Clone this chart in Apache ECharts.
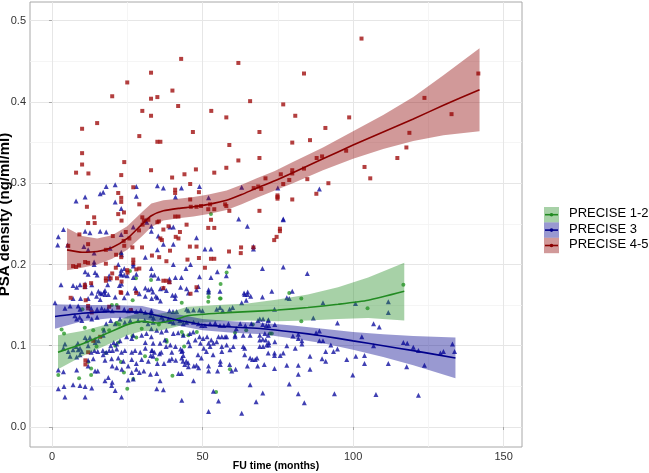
<!DOCTYPE html>
<html><head><meta charset="utf-8">
<script src="https://cdn.jsdelivr.net/npm/echarts@6/dist/echarts.min.js"></script>
<style>html,body{margin:0;padding:0;background:#fff}#c{width:649px;height:473px}</style>
</head><body><div id="c"></div>
<script>
const groupNames = ['PRECISE 1-2', 'PRECISE 3', 'PRECISE 4-5'];
const xTicks = [0, 50, 100, 150];
const xMinorTicks = [25, 75, 125];
const yTicks = [0, 0.1, 0.2, 0.3, 0.4, 0.5];
const yMinorTicks = [0.05, 0.15, 0.25, 0.35, 0.45];
const xTitle = 'FU time (months)';
const yTitle = 'PSA density (ng/ml/ml)';

// PRECISE 1-2 (green circles)
const precise12Points = [[22.9,0.213],[27.9,0.183],[25.9,0.192],[32.9,0.181],[19.9,0.150],[26.8,0.156],[43.1,0.153],[58,0.190],[56,0.176],[52,0.165],[56,0.158],[51.9,0.154],[78.8,0.165],[10.1,0.145],[3.2,0.120],[4,0.115],[10.9,0.122],[13.7,0.119],[22.3,0.126],[21.5,0.128],[43.1,0.117],[43.6,0.113],[45.3,0.113],[48.1,0.117],[60.8,0.116],[72.4,0.115],[38,0.107],[22.9,0.080],[27,0.059],[25,0.047],[23.9,0.067],[17.9,0.091],[14.8,0.099],[9,0.060],[2.1,0.064],[59.1,0.071],[54.5,0.043],[40,0.063],[43.9,0.099],[34.8,0.083],[30.9,0.087],[13,0.072],[82.8,0.158],[82.8,0.130],[104.8,0.146],[116.7,0.175],[73,0.115],[13,0.064],[12,0.080],[21,0.100],[22,0.104],[26.7,0.112],[28,0.110],[17,0.120],[19,0.119],[21.5,0.150],[52,0.160],[55.8,0.158],[38.1,0.105],[52.8,0.262],[29.8,0.121],[35.5,0.126],[64.5,0.119],[66.7,0.126]];

// PRECISE 3 (blue triangles)
const precise3Points = [[8,0.278],[11,0.283],[16,0.287],[17,0.289],[18,0.296],[21,0.298],[21,0.277],[23,0.269],[28,0.296],[28,0.284],[35,0.297],[37,0.294],[41,0.283],[43,0.294],[49,0.296],[52,0.282],[63,0.295],[75,0.294],[62,0.256],[88.8,0.293],[76.8,0.256],
[16,0.241],[18,0.240],[11,0.241],[12.6,0.239],[1.9,0.224],[5.2,0.224],[10.6,0.222],[12,0.218],[14,0.214],[14,0.203],[14,0.200],[23.1,0.212],[19.3,0.22],[22,0.2],[22.8,0.189],[11,0.191],[12,0.188],[14.3,0.190],[15,0.187],[19,0.186],[19,0.182],[3,0.175],[7,0.174],[8.2,0.172],[9.3,0.175],[11,0.176],[11,0.173],[13.2,0.175],[15.4,0.167],[17.6,0.168],[16.5,0.164],[17.6,0.163],[18.5,0.175],[22.4,0.174],[23.1,0.176],[7,0.158],[9.5,0.158],[12,0.158],[2.1,0.234],[3.8,0.243],[1,0.153],
[31,0.254],[31.5,0.252],[27,0.246],[33,0.247],[39.2,0.246],[40.3,0.246],[33,0.241],[35.3,0.235],[23,0.237],[37,0.225],[35,0.218],[40.3,0.225],[48,0.233],[23,0.215],[24,0.195],[23,0.193],[27,0.201],[27,0.198],[31,0.209],[33,0.195],[40.3,0.2],[46,0.2],[44.5,0.195],[24,0.187],[25,0.186],[27,0.184],[28,0.188],[33,0.187],[34,0.187],[35.3,0.183],[39,0.182],[39,0.179],[41,0.184],[43,0.184],[23,0.187],[31,0.171],[32,0.169],[33,0.170],[36,0.170],[37,0.171],[38,0.168],[40,0.162],[41,0.162],[44.7,0.170],[45.3,0.165],[42.7,0.172],[48.6,0.173],[27.6,0.171],[28,0.168],
[64.9,0.247],[50.8,0.219],[52.8,0.219],[66.9,0.222],[66.9,0.219],[58.8,0.198],[69.9,0.195],[49,0.185],[52.8,0.184],[54.9,0.191],[57.9,0.186],[52,0.169],[52,0.166],[55.8,0.167],[64,0.163],[65,0.166],[66,0.161],[69.9,0.160],[73,0.167],[48,0.169],
[76.8,0.255],[76.8,0.197],[84.8,0.189],[79.8,0.167],[78,0.159],[78.8,0.158],[90,0.153],[100.8,0.152],[111.7,0.154],[111.7,0.141],[73.9,0.145],[86.8,0.134],[71.9,0.132],[69,0.133],[70,0.126],[72,0.125],[74,0.126],[94.8,0.128],[106.8,0.127],[108.7,0.123],[80,0.112],[81.8,0.114],[81.8,0.109],[83,0.106],[83,0.102],[87.7,0.116],[88.8,0.118],[88.8,0.106],[90,0.106],[92.6,0.101],[94.8,0.096],[93.5,0.093],[102.9,0.111],[106.8,0.100],[116.7,0.104],[118,0.103],[120,0.098],[121.7,0.094],[129,0.091],[130,0.093],[133,0.102],[133.7,0.093],[70,0.108],[72,0.104],[72,0.101],[71,0.107],[74,0.105],[78,0.100],[71.8,0.091],[73.9,0.091],[73.9,0.088],[75.8,0.088],[76.8,0.091],[80.8,0.097],[89.7,0.084],[90.9,0.081],[90.9,0.093],[85.7,0.087],[97.9,0.083],[100.9,0.087],[103.8,0.088],[103.8,0.078],[111.7,0.078],[117.8,0.074],[123.7,0.076],[73.9,0.072],[78,0.076],[81.8,0.076],[85.7,0.071],[81.8,0.065],[99.9,0.064],[78.8,0.053],[70,0.042],[81.8,0.041],[83.8,0.030],[93.8,0.041],[107.6,0.040],[121.7,0.039],
[13.2,0.165],[16,0.165],[17.3,0.166],[18.7,0.163],[14.8,0.161],[16,0.157],[21,0.160],[24,0.159],[25.1,0.165],[29,0.164],[31,0.161],[33.1,0.158],[6,0.149],[8.7,0.149],[4.3,0.146],[9.3,0.145],
[13,0.146],[15,0.145],[16.5,0.146],[17.5,0.144],[18.5,0.145],[20,0.143],[24,0.145],[25.3,0.143],[26.5,0.144],[28,0.142],[29.5,0.144],[31,0.141],[33,0.143],
[7.6,0.137],[8.2,0.133],[9.2,0.135],[9.9,0.131],[12,0.137],[13.2,0.133],[15,0.135],[18,0.127],[19.5,0.131],[21,0.127],[22.6,0.133],[24.2,0.129],[26,0.131],[28.6,0.131],[30.8,0.131],[31.9,0.127],[33.6,0.129],
[11,0.110],[11.5,0.106],[12.6,0.110],[12,0.100],[8.6,0.103],[8,0.099],[9.3,0.097],[14.3,0.108],[14.3,0.104],[15.4,0.106],[17.3,0.119],[17,0.113],[20.5,0.104],[19.5,0.100],[21.5,0.102],[22.6,0.106],[24.8,0.111],[26.5,0.109],[27,0.113],[29.8,0.113],[31.4,0.115],[33,0.111],[31,0.104],
[4.3,0.102],[3.8,0.097],[5.4,0.093],[7,0.095],[8.7,0.095],[9.9,0.093],[13,0.092],[14.1,0.094],[15.2,0.093],[16.9,0.094],[18,0.092],[19,0.094],[20.1,0.094],[21.5,0.096],[23.1,0.092],[24.2,0.094],[26.5,0.092],[27.6,0.094],[29.3,0.092],[31,0.097],[33.3,0.094],
[6,0.087],[8.2,0.086],[9.3,0.089],[12,0.082],[13.7,0.084],[17,0.089],[17.6,0.082],[19.8,0.084],[22,0.085],[23.7,0.081],[26.5,0.083],[28,0.078],[29.8,0.083],[32,0.081],[33.6,0.087],
[12,0.075],[14.3,0.069],[15.2,0.069],[20,0.075],[21.5,0.073],[23.2,0.071],[25.3,0.075],[26.5,0.067],[28,0.071],[29,0.067],[30.5,0.069],[32.7,0.065],
[3.8,0.068],[8.2,0.070],[18.7,0.061],[17.6,0.057],[20,0.055],[7,0.052],[9.3,0.051],[13.2,0.048],[2.1,0.047],[19.8,0.051],[21,0.045],[23.1,0.037],[4.3,0.037],[11,0.037],[25.3,0.058],[27,0.059],[2.1,0.070],[4,0.05],[11,0.05],
[39,0.143],[40.2,0.142],[41.4,0.142],[44.7,0.145],[45.3,0.143],[47,0.144],[49,0.144],[50,0.143],[54.7,0.145],[55.8,0.147],[56.7,0.143],[59,0.145],[60,0.147],[63,0.153],[64.5,0.156],[64.9,0.163],[63.8,0.165],
[35,0.159],[36,0.155],[34.5,0.161],[33.5,0.166],[40.9,0.158],[33,0.141],[32.8,0.137],[33.7,0.134],
[36.4,0.135],[37,0.131],[38.7,0.133],[39.3,0.130],[40.3,0.128],[42.5,0.131],[43.6,0.127],[44.7,0.129],[47,0.129],[48.6,0.127],[49.7,0.125],[50.8,0.125],[52.5,0.127],[54.2,0.128],[55.8,0.125],[57.1,0.125],[58.6,0.127],[61.2,0.121],[62.5,0.127],[64.2,0.125],[66.2,0.127],[68.4,0.131],[70.1,0.133],[71.2,0.125],[71.8,0.131],
[33,0.121],[34.8,0.119],[36.4,0.117],[38,0.119],[40.3,0.115],[41.9,0.116],[43.6,0.113],[45.8,0.115],[46.9,0.117],[49,0.111],[50.2,0.109],[51.5,0.111],[52.9,0.107],[55.3,0.111],[56.4,0.111],[57.5,0.111],[58,0.111],[60.8,0.113],[60.8,0.111],[63.5,0.113],[65.8,0.113],[69,0.113],[70.7,0.115],[71.8,0.113],
[33.6,0.103],[35.9,0.103],[37.5,0.107],[37.9,0.099],[39.3,0.101],[41,0.099],[42.7,0.096],[43.3,0.094],[45.3,0.105],[45.8,0.100],[47.6,0.107],[49.3,0.103],[50.4,0.097],[52,0.103],[52.5,0.099],[53.6,0.103],[54.7,0.105],[56.4,0.099],[58,0.101],[60.2,0.099],[63.5,0.099],[64,0.097],[69,0.107],[69,0.099],[70.1,0.099],[71.3,0.101],
[34,0.092],[35.7,0.090],[36.3,0.092],[39.8,0.092],[39.8,0.084],[43.1,0.093],[43.1,0.085],[43.6,0.088],[48.5,0.089],[49.6,0.085],[51.3,0.093],[53.5,0.089],[56.4,0.093],[59.1,0.095],[64,0.089],[65.8,0.085],[67.5,0.083],[68.1,0.085],[33.1,0.094],[32.8,0.088],
[35,0.078],[37.2,0.078],[38.9,0.082],[41.1,0.082],[43.5,0.081],[44.1,0.077],[44.6,0.081],[45.2,0.079],[47.1,0.075],[48.7,0.073],[52,0.075],[55.9,0.081],[55.9,0.077],[59,0.077],[61,0.071],[64.9,0.075],[66.6,0.083],[68.3,0.075],[70.5,0.077],
[34.8,0.066],[42,0.066],[43,0.066],[45.3,0.074],[48,0.076],[52,0.069],[55,0.069],[59.7,0.069],[35.9,0.057],[47,0.057],[34.8,0.047],[37,0.046],[65.8,0.052],[53.6,0.044],[43.1,0.033],[55.3,0.032],[67.8,0.031],[52,0.019],[63,0.017]];

// PRECISE 4-5 (red squares)
const precise45Points = [[42.9,0.453],[61.9,0.448],[32.9,0.436],[25.0,0.424],[40.0,0.414],[20.0,0.407],[32.9,0.404],[35.0,0.406],[65.8,0.401],[76.8,0.397],[41.9,0.395],[30.0,0.389],[52.9,0.389],[32.9,0.383],[57.9,0.381],[10.0,0.367],[15.0,0.374],[68.9,0.363],[46.8,0.363],[29.0,0.358],[35.0,0.351],[36.0,0.351],[58.9,0.347],[10.0,0.337],[10.0,0.323],[8.0,0.313],[12.1,0.312],[24.0,0.326],[23.0,0.310],[32.9,0.316],[39.9,0.307],[44.0,0.311],[47.8,0.317],[57.9,0.319],[61.9,0.328],[68.9,0.331],[53.9,0.313],[45.9,0.299],[27.0,0.295],[22.0,0.288],[40.9,0.292],[40.9,0.288],[23.0,0.282],[29.0,0.274],[11.6,0.271],[45.9,0.280],[51.9,0.268],[53.9,0.268],[58.9,0.266],[68.9,0.266],[70.9,0.306],[67.0,0.294],[68.5,0.296],[69.5,0.293],[74.9,0.285],[76.0,0.311],[76.8,0.299],[23.9,0.264],[22.0,0.262],[14.0,0.258],
[102.8,0.478],[83.7,0.435],[141.6,0.435],[123.7,0.405],[80.8,0.383],[98.7,0.381],[132.7,0.385],[90.8,0.368],[118.7,0.362],[79.8,0.350],[85.7,0.353],[117.7,0.344],[114.7,0.331],[97.7,0.340],[89.7,0.333],[87.9,0.331],[103.8,0.320],[105.7,0.306],[83.7,0.318],[79.8,0.316],[79.8,0.312],[78.8,0.304],[84.8,0.305],[91.8,0.300],[74.9,0.283],[74.9,0.281],[79.8,0.280],[87.8,0.287],
[12,0.251],[14.2,0.251],[23.1,0.254],[9.1,0.237],[20.2,0.235],[12,0.225],[17.9,0.218],[21.3,0.212],[7,0.198],[8,0.197],[9,0.199],[11,0.203],[12,0.202],[17.9,0.201],[21.2,0.196],[20,0.189],[17.9,0.183],[17.9,0.180],[19.5,0.183],[21.6,0.183],[10.9,0.175],[10.9,0.172],[6.2,0.159],[5.4,0.223],
[23,0.277],[48.8,0.289],[46.1,0.271],[40.9,0.259],[42,0.259],[30,0.258],[30.5,0.254],[32,0.255],[35,0.252],[35.5,0.253],[37,0.243],[38.7,0.247],[42.5,0.240],[44.7,0.249],[41.1,0.234],[28.9,0.242],[30.1,0.249],[24.5,0.240],[42,0.232],[23.8,0.229],[25.7,0.232],[36,0.232],[36.5,0.230],[26.7,0.221],[29.9,0.221],[39.2,0.217],[33.2,0.211],[24,0.223],[35.6,0.209],[38,0.204],[45.8,0.222],[48,0.222],[23,0.209],[27,0.206],[27,0.202],[45,0.206],[29,0.195],[28,0.194],[25,0.193],[37,0.180],[38,0.180],[39,0.178],[46,0.164],[23.1,0.179],[37,0.171],
[48,0.271],[49.5,0.272],[52.5,0.274],[57.5,0.274],[57.9,0.272],[52.8,0.255],[51.9,0.245],[53.9,0.245],[73.8,0.230],[62.8,0.221],[66.9,0.221],[58.8,0.216],[48.8,0.208],[52.8,0.207],[53.9,0.207],[50.8,0.196],[48,0.172],
[75.7,0.241],[75.7,0.244],[74.6,0.234],[62.7,0.214],[22.8,0.166],[25.1,0.19],[13,0.177],[11.1,0.082],[11.1,0.077],[13.7,0.106],
[12,0.092],[16,0.111],[12,0.149],[12,0.146],[11.2,0.156],[19,0.148],[22,0.147],[28,0.165],[23,0.165],[13.2,0.141],[26.2,0.144]];

// Smooth fits with confidence bands
const fit12X  = [2, 10, 20, 25, 30, 35, 40, 45, 55, 65, 75, 85, 95, 105, 117];
const fit12Y  = [0.092,0.102,0.118,0.126,0.130,0.128,0.131,0.137,0.140,0.142,0.144,0.147,0.151,0.156,0.167];
const fit12Lo = [0.071,0.087,0.104,0.113,0.118,0.118,0.122,0.127,0.130,0.131,0.130,0.131,0.133,0.134,0.131];
const fit12Hi = [0.113,0.118,0.128,0.136,0.141,0.139,0.142,0.148,0.150,0.152,0.157,0.163,0.172,0.184,0.202];

const fit3X  = [1, 10, 20, 30, 40, 50, 60, 70, 80, 90, 100, 110, 120, 134];
const fit3Y  = [0.136,0.140,0.142,0.141,0.133,0.126,0.123,0.121,0.117,0.112,0.106,0.100,0.094,0.085];
const fit3Lo = [0.121,0.130,0.134,0.133,0.126,0.119,0.116,0.114,0.109,0.103,0.095,0.086,0.076,0.060];
const fit3Hi = [0.151,0.150,0.150,0.149,0.140,0.133,0.130,0.128,0.125,0.121,0.117,0.114,0.112,0.110];

const fit45X  = [5, 10, 15, 20, 25, 30, 33, 37, 42, 47, 52, 58, 63, 68, 74, 80, 90, 100, 110, 120, 130, 142];
const fit45Y  = [0.218,0.215,0.216,0.221,0.232,0.250,0.260,0.266,0.269,0.271,0.274,0.279,0.286,0.294,0.303,0.313,0.330,0.347,0.363,0.379,0.396,0.415];
const fit45Lo = [0.193,0.196,0.200,0.207,0.218,0.235,0.246,0.254,0.257,0.259,0.262,0.267,0.274,0.282,0.291,0.300,0.316,0.330,0.342,0.352,0.359,0.364];
const fit45Hi = [0.245,0.235,0.232,0.236,0.247,0.265,0.275,0.279,0.281,0.283,0.286,0.291,0.298,0.306,0.315,0.326,0.344,0.364,0.384,0.406,0.433,0.466];

const lineColors = ['#228B22', '#00008B', '#8B0000'];
const pointColors = ['#2a9a2a', '#1010a0', '#a00f0f'];
const bandColors = ['rgba(34,139,34,0.4)', 'rgba(0,0,139,0.4)', 'rgba(139,0,0,0.4)'];
const symbols = ['circle', 'triangle', 'rect'];
const symbolSizes = [4, 5, 4];

const groups = [
  {pts: precise12Points, x: fit12X, y: fit12Y, lo: fit12Lo, hi: fit12Hi},
  {pts: precise3Points, x: fit3X, y: fit3Y, lo: fit3Lo, hi: fit3Hi},
  {pts: precise45Points, x: fit45X, y: fit45Y, lo: fit45Lo, hi: fit45Hi}
];

const zip = (a, b) => a.map((v, i) => [v, b[i]]);

const series = [];
groups.forEach((g, i) => {
  series.push({type: 'scatter', name: groupNames[i], data: g.pts, symbol: symbols[i],
    symbolSize: symbolSizes[i], itemStyle: {color: pointColors[i]}, z: 2, silent: true});
});
groups.forEach((g, i) => {
  series.push({type: 'custom', name: groupNames[i] + ' band', z: 3, silent: true,
    data: [[g.x[0], g.lo[0]]],
    renderItem: function (params, api) {
      const pts = [];
      for (let k = 0; k < g.x.length; k++) pts.push(api.coord([g.x[k], g.hi[k]]));
      for (let k = g.x.length - 1; k >= 0; k--) pts.push(api.coord([g.x[k], g.lo[k]]));
      return {type: 'polygon', shape: {points: pts}, style: {fill: bandColors[i]}};
    }});
});
groups.forEach((g, i) => {
  series.push({type: 'line', name: groupNames[i] + ' fit', data: zip(g.x, g.y), smooth: 0.2,
    showSymbol: false, z: 4, silent: true, lineStyle: {color: lineColors[i], width: 1.6}});
});

const chart = echarts.init(document.getElementById('c'), null, {renderer: 'canvas'});
const gridL = 30, gridT = 2, gridR = 127, gridB = 26;

const legendGraphics = [];
const keyX = 544, keyY0 = 207, keyH = 15.4, keyW = 15;
groupNames.forEach((nm, i) => {
  const cy = keyY0 + i * keyH + keyH / 2;
  legendGraphics.push({type: 'rect', left: keyX, top: keyY0 + i * keyH, shape: {width: keyW, height: keyH},
    style: {fill: bandColors[i]}, z: 10});
  legendGraphics.push({type: 'line', shape: {x1: keyX + 1, y1: cy, x2: keyX + keyW - 1, y2: cy},
    style: {stroke: lineColors[i], lineWidth: 1.6}, z: 11});
  legendGraphics.push({type: 'circle', shape: {cx: keyX + keyW / 2, cy: cy, r: 1.8},
    style: {fill: lineColors[i]}, z: 12});
  legendGraphics.push({type: 'text', left: keyX + keyW + 10, top: cy - 7.5,
    style: {text: nm, fill: '#000', font: '13px "Liberation Sans", Arial, sans-serif'}, z: 12});
});

chart.setOption({
  animation: false,
  backgroundColor: '#fff',
  grid: {left: gridL, top: gridT, right: gridR, bottom: gridB, show: true, containLabel: false,
    outerBoundsMode: 'none',
    borderColor: '#a8a8a8', borderWidth: 1, backgroundColor: '#fff'},
  xAxis: [{
    type: 'value', min: -7.3, max: 156.1,
    name: xTitle, nameLocation: 'middle', nameGap: 14, nameMoveOverlap: false,
    nameTextStyle: {fontFamily: 'Liberation Sans', fontWeight: 'bold', fontSize: 10.5, color: '#000',
      verticalAlign: 'top'},
    axisLine: {show: false},
    axisTick: {show: true, length: 3, customValues: xTicks, lineStyle: {color: '#a8a8a8'}},
    axisLabel: {customValues: xTicks, margin: 4, fontFamily: 'Liberation Sans', fontSize: 11, color: '#333',
      formatter: v => String(v)},
    splitLine: {show: true, lineStyle: {color: '#e6e6e6', width: 1}}
  }, {
    type: 'value', min: -7.3, max: 156.1, position: 'top',
    axisLine: {show: false}, axisLabel: {show: false},
    axisTick: {show: false, customValues: xMinorTicks},
    splitLine: {show: true, lineStyle: {color: '#f3f3f3', width: 0.8}}
  }],
  yAxis: [{
    type: 'value', min: -0.0246, max: 0.523,
    name: yTitle, nameLocation: 'middle', nameGap: 18, nameRotate: 90, nameMoveOverlap: false,
    nameTextStyle: {fontFamily: 'Liberation Sans', fontWeight: 'bold', fontSize: 15, color: '#000',
      padding: [0, 0, 0, 20]},
    axisLine: {show: false},
    axisTick: {show: true, length: 3, customValues: yTicks, lineStyle: {color: '#a8a8a8'}},
    axisLabel: {customValues: yTicks, margin: 4, fontFamily: 'Liberation Sans', fontSize: 11, color: '#333',
      formatter: v => v.toFixed(1)},
    splitLine: {show: true, lineStyle: {color: '#e6e6e6', width: 1}}
  }, {
    type: 'value', min: -0.0246, max: 0.523, position: 'right',
    axisLine: {show: false}, axisLabel: {show: false},
    axisTick: {show: false, customValues: yMinorTicks},
    splitLine: {show: true, lineStyle: {color: '#f3f3f3', width: 0.8}}
  }],
  series: series,
  graphic: legendGraphics
});
</script>
</body></html>
